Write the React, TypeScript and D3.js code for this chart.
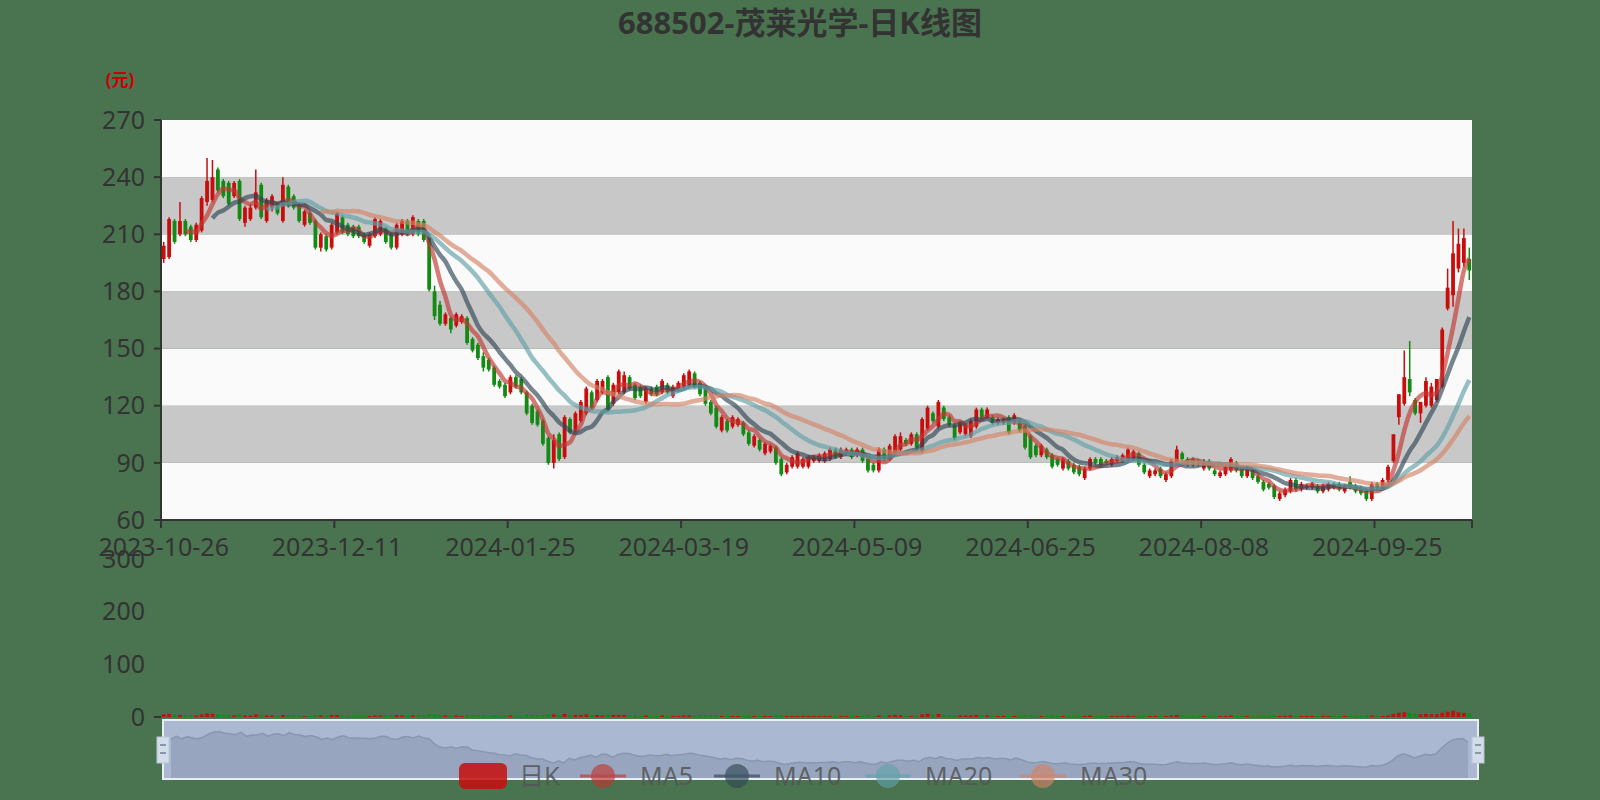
import { useEffect, useRef } from "react";
import * as d3 from "d3";

const W = 1600;
const H = 800;
const BG = "#4a7350";
const FONT = "'Noto Sans', 'Noto Sans CJK SC', sans-serif";
const TEXT = "#333";
const UP = "#c80d0d";
const DOWN = "#138a13";

const TITLE = "688502-茂莱光学-日K线图";

// trading days, by month
const TRADE_DAYS: [string, number[]][] = [
  ["2023-10", [26, 27, 30, 31]],
  ["2023-11", [1, 2, 3, 6, 7, 8, 9, 10, 13, 14, 15, 16, 17, 20, 21, 22, 23, 24, 27, 28, 29, 30]],
  ["2023-12", [1, 4, 5, 6, 7, 8, 11, 12, 13, 14, 15, 18, 19, 20, 21, 22, 25, 26, 27, 28, 29]],
  ["2024-01", [2, 3, 4, 5, 8, 9, 10, 11, 12, 15, 16, 17, 18, 19, 22, 23, 24, 25, 26, 29, 30, 31]],
  ["2024-02", [1, 2, 5, 6, 7, 8, 19, 20, 21, 22, 23, 26, 27, 28, 29]],
  ["2024-03", [1, 4, 5, 6, 7, 8, 11, 12, 13, 14, 15, 18, 19, 20, 21, 22, 25, 26, 27, 28, 29]],
  ["2024-04", [1, 2, 3, 8, 9, 10, 11, 12, 15, 16, 17, 18, 19, 22, 23, 24, 25, 26, 29, 30]],
  ["2024-05", [6, 7, 8, 9, 10, 13, 14, 15, 16, 17, 20, 21, 22, 23, 24, 27, 28, 29, 30, 31]],
  ["2024-06", [3, 4, 5, 6, 7, 11, 12, 13, 14, 17, 18, 19, 20, 21, 24, 25, 26, 27, 28]],
  ["2024-07", [1, 2, 3, 4, 5, 8, 9, 10, 11, 12, 15, 16, 17, 18, 19, 22, 23, 24, 25, 26, 29, 30, 31]],
  ["2024-08", [1, 2, 5, 6, 7, 8, 9, 12, 13, 14, 15, 16, 19, 20, 21, 22, 23, 26, 27, 28, 29, 30]],
  ["2024-09", [2, 3, 4, 5, 6, 9, 10, 11, 12, 13, 18, 19, 20, 23, 24, 25, 26, 27, 30]],
  ["2024-10", [8, 9, 10, 11, 14, 15, 16, 17, 18, 21, 22, 23, 24, 25]],
];
const DATES = TRADE_DAYS.flatMap(([m, days]) => days.map((d) => `${m}-${String(d).padStart(2, "0")}`));

// [open, close, low, high]
const CANDLES: [number, number, number, number][] = [
  [197, 204, 195, 206], [198, 218, 197, 219], [217, 206, 205, 218], [210, 217, 209, 227], [217, 210, 209, 218],
  [214, 207, 206, 215], [207, 215, 206, 216], [212, 229, 211, 230], [227, 238, 225, 250], [228, 240, 227, 249],
  // 10
  [244, 233, 232, 245], [238, 230, 229, 239], [237, 226, 225, 238], [230, 237, 229, 238], [238, 218, 217, 239],
  [216, 224, 214, 225], [218, 224, 217, 226], [224, 232, 223, 244], [236, 219, 218, 237], [217, 228, 216, 229],
  // 20
  [224, 230, 222, 231], [226, 221, 220, 227], [217, 236, 216, 240], [235, 225, 224, 236], [230, 224, 223, 231],
  [225, 217, 216, 226], [215, 222, 214, 223], [221, 216, 215, 222], [217, 203, 202, 218], [203, 210, 201, 211],
  // 30
  [209, 202, 201, 210], [203, 215, 202, 216], [211, 221, 210, 222], [219, 211, 210, 220], [215, 210, 209, 216],
  [214, 209, 208, 215], [214, 209, 208, 215], [210, 206, 205, 211], [204, 210, 203, 211], [209, 218, 208, 219],
  // 40
  [210, 217, 209, 218], [213, 206, 205, 214], [210, 203, 202, 211], [203, 215, 202, 216], [210, 217, 209, 218],
  [217, 210, 209, 218], [210, 219, 209, 220], [217, 210, 209, 218], [217, 207, 206, 218], [208, 181, 180, 209],
  // 50
  [180, 167, 165, 183], [173, 163, 162, 175], [163, 168, 162, 169], [166, 160, 158, 167], [162, 168, 161, 169],
  [164, 167, 163, 168], [166, 153, 152, 167], [155, 149, 148, 156], [152, 145, 144, 153], [146, 140, 138, 148],
  // 60
  [144, 139, 138, 145], [140, 131, 130, 141], [133, 130, 129, 134], [131, 125, 124, 132], [127, 135, 126, 136],
  [135, 130, 129, 136], [134, 127, 126, 135], [127, 116, 115, 128], [120, 111, 110, 121], [117, 110, 109, 118],
  // 70
  [112, 100, 99, 113], [103, 90, 89, 104], [90, 102, 87, 105], [105, 92, 91, 106], [93, 114, 92, 115],
  [113, 106, 105, 114], [107, 116, 106, 117], [112, 122, 111, 123], [116, 129, 115, 130], [127, 119, 118, 128],
  // 80
  [123, 133, 122, 134], [127, 133, 126, 134], [135, 118, 117, 136], [121, 131, 120, 132], [127, 138, 126, 139],
  [127, 136, 126, 138], [135, 129, 128, 136], [131, 124, 123, 132], [130, 125, 124, 131], [122, 129, 121, 130],
  // 90
  [129, 126, 125, 130], [130, 126, 125, 131], [127, 133, 126, 134], [131, 127, 126, 132], [125, 130, 124, 131],
  [129, 132, 128, 133], [130, 136, 129, 137], [131, 138, 130, 139], [137, 130, 129, 138], [132, 126, 125, 133],
  // 100
  [129, 121, 120, 130], [122, 116, 115, 123], [119, 109, 108, 120], [107, 114, 106, 115], [112, 107, 106, 113],
  [109, 114, 108, 115], [110, 113, 109, 114], [111, 105, 104, 112], [106, 100, 99, 107], [99, 104, 98, 105],
  // 110
  [102, 97, 96, 103], [95, 100, 94, 101], [96, 99, 95, 100], [98, 90, 89, 99], [92, 84, 83, 93],
  [85, 89, 84, 90], [88, 93, 87, 94], [88, 95, 87, 96], [88, 92, 87, 93], [88, 93, 87, 94],
  // 120
  [91, 93, 90, 94], [91, 94, 90, 95], [91, 95, 90, 96], [92, 97, 91, 98], [97, 93, 92, 98],
  [93, 97, 92, 98], [95, 97, 94, 98], [97, 93, 92, 98], [94, 97, 93, 98], [97, 91, 90, 98],
  // 130
  [92, 86, 85, 93], [89, 86, 85, 90], [86, 97, 85, 98], [97, 92, 91, 98], [92, 99, 91, 100],
  [95, 104, 94, 105], [97, 104, 96, 106], [102, 100, 99, 103], [100, 105, 99, 106], [105, 98, 97, 106],
  // 140
  [96, 113, 95, 114], [108, 119, 107, 120], [116, 112, 111, 117], [109, 122, 108, 123], [119, 113, 112, 120],
  [114, 110, 109, 115], [110, 103, 102, 111], [106, 111, 105, 112], [105, 110, 104, 111], [104, 112, 103, 113],
  // 150
  [109, 118, 108, 119], [118, 114, 113, 119], [114, 118, 113, 119], [114, 111, 110, 115], [111, 113, 110, 114],
  [111, 113, 110, 114], [114, 106, 105, 115], [111, 115, 110, 116], [112, 107, 106, 113], [109, 98, 97, 110],
  // 160
  [104, 93, 92, 105], [99, 94, 93, 100], [94, 99, 93, 100], [97, 93, 92, 98], [94, 88, 87, 95],
  [92, 89, 88, 93], [87, 92, 86, 93], [91, 87, 86, 92], [89, 85, 84, 90], [88, 84, 83, 89],
  // 170
  [82, 87, 81, 88], [87, 92, 86, 93], [92, 90, 89, 93], [92, 89, 88, 93], [91, 90, 89, 92],
  [89, 92, 88, 93], [91, 93, 90, 94], [91, 94, 90, 95], [92, 97, 91, 98], [92, 96, 91, 97],
  // 180
  [95, 89, 88, 96], [89, 85, 84, 90], [83, 86, 82, 87], [84, 86, 83, 87], [87, 83, 82, 88],
  [81, 84, 80, 85], [83, 91, 82, 92], [90, 97, 89, 99], [95, 92, 91, 96], [92, 89, 88, 93],
  // 190
  [92, 89, 88, 93], [91, 89, 88, 92], [87, 91, 86, 92], [91, 87, 86, 92], [86, 84, 83, 87],
  [83, 85, 82, 86], [84, 88, 83, 89], [86, 92, 85, 93], [90, 86, 85, 91], [87, 83, 82, 88],
  // 200
  [83, 87, 82, 88], [86, 82, 81, 87], [83, 80, 79, 84], [80, 76, 75, 81], [79, 77, 76, 80],
  [78, 72, 71, 79], [71, 74, 70, 75], [73, 76, 72, 77], [75, 81, 74, 82], [81, 76, 75, 82],
  // 210
  [76, 79, 75, 80], [77, 78, 76, 79], [77, 79, 76, 80], [78, 75, 74, 79], [75, 78, 74, 79],
  [76, 79, 75, 80], [79, 77, 76, 80], [79, 76, 75, 80], [75, 78, 74, 79], [80, 77, 76, 83],
  // 220
  [78, 75, 74, 79], [77, 74, 73, 78], [76, 71, 70, 77], [71, 79, 70, 80], [79, 77, 76, 80],
  [77, 81, 76, 82], [81, 88, 80, 89], [91, 105, 90, 105], [114, 126, 110, 126], [121, 135, 120, 149],
  // 230
  [134, 127, 125, 154], [123, 116, 115, 124], [116, 122, 111, 122], [120, 133, 119, 135], [120, 130, 119, 132],
  [123, 134, 122, 134], [130, 160, 129, 161], [171, 182, 170, 192], [178, 200, 172, 217], [192, 205, 190, 213],
  // 240
  [195, 208, 193, 213], [197, 191, 186, 203],
];
const CLOSES = CANDLES.map((c) => c[1]);

const VOLUMES = [
  5, 6, 4, 4, 3, 3, 3, 5, 7, 6, 5, 4, 4, 3, 5, 3, 3, 5, 4, 3,
  3, 3, 4, 3, 3, 3, 2, 2, 4, 3, 3, 4, 4, 3, 2, 2, 2, 2, 2, 3,
  3, 3, 3, 4, 3, 3, 3, 3, 3, 6, 5, 4, 3, 3, 3, 2, 4, 3, 3, 3,
  2, 3, 2, 3, 3, 2, 2, 4, 3, 3, 4, 5, 5, 4, 6, 4, 4, 4, 5, 4,
  4, 3, 5, 4, 4, 4, 3, 3, 2, 3, 2, 2, 3, 2, 2, 2, 3, 3, 3, 3,
  3, 3, 3, 2, 2, 2, 2, 2, 3, 2, 2, 2, 2, 3, 3, 2, 2, 2, 2, 2,
  2, 2, 2, 2, 2, 2, 2, 2, 2, 2, 3, 2, 3, 2, 3, 4, 3, 2, 2, 3,
  5, 6, 4, 6, 4, 3, 3, 3, 3, 3, 4, 3, 3, 2, 2, 2, 3, 2, 2, 3,
  3, 2, 2, 2, 2, 2, 2, 2, 2, 2, 2, 3, 2, 2, 2, 2, 2, 2, 3, 2,
  2, 2, 2, 2, 2, 2, 3, 4, 3, 2, 2, 2, 2, 2, 2, 2, 2, 3, 2, 2,
  2, 2, 2, 2, 2, 3, 2, 2, 3, 2, 2, 2, 2, 2, 2, 2, 2, 2, 2, 2,
  2, 2, 3, 3, 2, 2, 3, 6, 8, 9, 8, 6, 5, 6, 5, 5, 8, 10, 12, 9, 8, 7,
];

const MA_SERIES = [
  { name: "MA5", days: 5, color: "#c23531" },
  { name: "MA10", days: 10, color: "#2f4554" },
  { name: "MA20", days: 20, color: "#61a0a8" },
  { name: "MA30", days: 30, color: "#d48265" },
];

const Y_TICKS = [60, 90, 120, 150, 180, 210, 240, 270];
const VOL_TICKS = [0, 100, 200, 300];
const LABEL_EVERY = 32;

const PLOT = { left: 161, right: 1472, top: 120, bottom: 520 };
const VOL = { top: 559, bottom: 717 };
const SLIDER = { left: 163, right: 1478, top: 720, bottom: 779 };

function movingAverage(days: number): (number | null)[] {
  return CLOSES.map((_, i) => (i < days - 1 ? null : d3.mean(CLOSES.slice(i - days + 1, i + 1)) ?? null));
}

export default function App() {
  const svgRef = useRef<SVGSVGElement>(null);

  useEffect(() => {
    document.body.style.margin = "0";
    if (!svgRef.current) return;
    const svg = d3.select(svgRef.current);
    svg.selectAll("*").remove();

    const x = d3.scaleBand<string>().domain(DATES).range([PLOT.left, PLOT.right]);
    const bw = x.bandwidth();
    const cx = (d: string) => (x(d) ?? 0) + bw / 2;
    const candleW = bw * 0.7;
    const y = d3.scaleLinear().domain([60, 270]).range([PLOT.bottom, PLOT.top]);
    const yVol = d3.scaleLinear().domain([0, 300]).range([VOL.bottom, VOL.top]);

    svg.append("rect").attr("width", W).attr("height", H).attr("fill", BG);

    // Title
    svg.append("text")
      .attr("x", W / 2).attr("y", 34)
      .attr("text-anchor", "middle")
      .attr("font-size", 31).attr("font-weight", "bold")
      .attr("fill", TEXT)
      .text(TITLE);

    // Unit label
    svg.append("text")
      .attr("x", 120).attr("y", 86)
      .attr("text-anchor", "middle")
      .attr("font-size", 17).attr("font-weight", "bold")
      .attr("fill", "#c00")
      .text("(元)");

    // Split areas
    svg.append("g")
      .selectAll("rect")
      .data(d3.pairs(Y_TICKS))
      .join("rect")
      .attr("x", PLOT.left)
      .attr("width", PLOT.right - PLOT.left)
      .attr("y", (d) => y(d[1]))
      .attr("height", (d) => y(d[0]) - y(d[1]))
      .attr("fill", (_, i) => (i % 2 ? "#c8c8c8" : "#fafafa"));

    // Y axis
    const gy = svg.append("g").attr("transform", `translate(${PLOT.left},0)`);
    gy.append("line").attr("y1", PLOT.top).attr("y2", PLOT.bottom).attr("stroke", TEXT).attr("stroke-width", 2);
    gy.selectAll("line.tick")
      .data(Y_TICKS)
      .join("line")
      .attr("class", "tick")
      .attr("x1", -7).attr("x2", 0)
      .attr("y1", (d) => y(d)).attr("y2", (d) => y(d))
      .attr("stroke", TEXT).attr("stroke-width", 2);
    gy.selectAll("text")
      .data(Y_TICKS)
      .join("text")
      .attr("x", -16)
      .attr("y", (d) => y(d))
      .attr("dy", "0.35em")
      .attr("text-anchor", "end")
      .attr("font-size", 25)
      .attr("fill", TEXT)
      .text((d) => d);

    // X axis
    const labelled = DATES.filter((_, i) => i % LABEL_EVERY === 0);
    const gx = svg.append("g");
    gx.append("line")
      .attr("x1", PLOT.left).attr("x2", PLOT.right)
      .attr("y1", PLOT.bottom).attr("y2", PLOT.bottom)
      .attr("stroke", TEXT).attr("stroke-width", 2);
    gx.selectAll("line.tick")
      .data([...labelled.map((d) => x(d) ?? 0), PLOT.right])
      .join("line")
      .attr("class", "tick")
      .attr("x1", (d) => d).attr("x2", (d) => d)
      .attr("y1", PLOT.bottom).attr("y2", PLOT.bottom + 8)
      .attr("stroke", TEXT).attr("stroke-width", 2);
    gx.selectAll("text")
      .data(labelled)
      .join("text")
      .attr("x", (d) => cx(d))
      .attr("y", PLOT.bottom + 27)
      .attr("dy", "0.35em")
      .attr("text-anchor", "middle")
      .attr("font-size", 25)
      .attr("fill", TEXT)
      .text((d) => d);

    // Candles
    const gc = svg.append("g");
    const candles = CANDLES.map((c, i) => ({ date: DATES[i], o: c[0], c: c[1], l: c[2], h: c[3] }));
    gc.selectAll("line")
      .data(candles)
      .join("line")
      .attr("x1", (d) => cx(d.date)).attr("x2", (d) => cx(d.date))
      .attr("y1", (d) => y(d.h)).attr("y2", (d) => y(d.l))
      .attr("stroke", (d) => (d.c >= d.o ? UP : DOWN))
      .attr("stroke-width", 1.5);
    gc.selectAll("rect")
      .data(candles)
      .join("rect")
      .attr("x", (d) => cx(d.date) - candleW / 2)
      .attr("width", candleW)
      .attr("y", (d) => y(Math.max(d.o, d.c)))
      .attr("height", (d) => Math.max(1, Math.abs(y(d.o) - y(d.c))))
      .attr("fill", (d) => (d.c >= d.o ? UP : DOWN));

    // Moving averages
    const gm = svg.append("g");
    MA_SERIES.forEach((s) => {
      const vals = movingAverage(s.days);
      const line = d3.line<number | null>()
        .defined((v) => v != null)
        .x((_, i) => cx(DATES[i]))
        .y((v) => y(v as number))
        .curve(d3.curveMonotoneX);
      gm.append("path")
        .attr("d", line(vals))
        .attr("fill", "none")
        .attr("stroke", s.color)
        .attr("stroke-opacity", 0.65)
        .attr("stroke-width", 4.5);
    });

    // Volume axis + bars
    const gv = svg.append("g");
    gv.selectAll("text")
      .data(VOL_TICKS)
      .join("text")
      .attr("x", PLOT.left - 16)
      .attr("y", (d) => yVol(d))
      .attr("dy", "0.35em")
      .attr("text-anchor", "end")
      .attr("font-size", 25)
      .attr("fill", TEXT)
      .text((d) => d);
    gv.append("line")
      .attr("x1", PLOT.left - 7).attr("x2", PLOT.left)
      .attr("y1", yVol(0)).attr("y2", yVol(0))
      .attr("stroke", TEXT).attr("stroke-width", 2);
    gv.selectAll("rect")
      .data(VOLUMES.map((v, i) => ({ v, date: DATES[i], up: CANDLES[i][1] >= CANDLES[i][0] })))
      .join("rect")
      .attr("x", (d) => cx(d.date) - candleW / 2)
      .attr("width", candleW)
      .attr("y", (d) => yVol(d.v))
      .attr("height", (d) => yVol(0) - yVol(d.v))
      .attr("fill", (d) => (d.up ? UP : DOWN));

    // Data zoom slider
    const gs = svg.append("g");
    gs.append("rect")
      .attr("x", SLIDER.left).attr("y", SLIDER.top)
      .attr("width", SLIDER.right - SLIDER.left).attr("height", SLIDER.bottom - SLIDER.top)
      .attr("fill", "#aab9d1")
      .attr("stroke", "#e8eef4").attr("stroke-width", 2);
    const [cMin, cMax] = d3.extent(CLOSES) as [number, number];
    const pad = (cMax - cMin) * 0.3;
    const sx = d3.scaleLinear().domain([0, CLOSES.length - 1]).range([SLIDER.left + 8, SLIDER.right - 10]);
    const sy = d3.scaleLinear().domain([cMin - pad, cMax + pad]).range([SLIDER.bottom - 1, SLIDER.top + 1]);
    gs.append("path")
      .datum(CLOSES)
      .attr("d", d3.area<number>().x((_, i) => sx(i)).y0(SLIDER.bottom - 1).y1((v) => sy(v)))
      .attr("fill", "#97a6be");
    gs.append("path")
      .datum(CLOSES)
      .attr("d", d3.line<number>().x((_, i) => sx(i)).y((v) => sy(v)))
      .attr("fill", "none").attr("stroke", "#8797b1").attr("stroke-width", 1.5);
    [SLIDER.left - 6, SLIDER.right - 6].forEach((hx) => {
      gs.append("rect")
        .attr("x", hx).attr("y", 737).attr("width", 12).attr("height", 26)
        .attr("fill", "#d3dce9").attr("stroke", "#b9c6d8");
      [745, 753].forEach((ly) => {
        gs.append("line")
          .attr("x1", hx + 3).attr("x2", hx + 9)
          .attr("y1", ly).attr("y2", ly)
          .attr("stroke", "#6f7f96").attr("stroke-width", 1.5);
      });
    });

    // Legend (sits over the slider)
    const legendY = 776;
    const gl = svg.append("g").attr("font-size", 25).attr("opacity", 0.85);
    gl.append("rect")
      .attr("x", 459).attr("y", legendY - 13)
      .attr("width", 48).attr("height", 26).attr("rx", 6)
      .attr("fill", UP);
    gl.append("text").attr("x", 519).attr("y", legendY).attr("dy", "0.35em").attr("fill", "#555").text("日K");
    const maLegendX = [580, 714, 865, 1020];
    MA_SERIES.forEach((s, i) => {
      const lx = maLegendX[i];
      gl.append("line")
        .attr("x1", lx).attr("x2", lx + 46)
        .attr("y1", legendY).attr("y2", legendY)
        .attr("stroke", s.color).attr("stroke-opacity", 0.75).attr("stroke-width", 3);
      gl.append("circle")
        .attr("cx", lx + 23).attr("cy", legendY).attr("r", 12)
        .attr("fill", s.color).attr("fill-opacity", 0.75);
      gl.append("text")
        .attr("x", lx + 60).attr("y", legendY).attr("dy", "0.35em")
        .attr("fill", "#555")
        .text(s.name);
    });
  }, []);

  return (
    <svg
      ref={svgRef}
      width={W}
      height={H}
      style={{ display: "block", fontFamily: FONT }}
    />
  );
}
